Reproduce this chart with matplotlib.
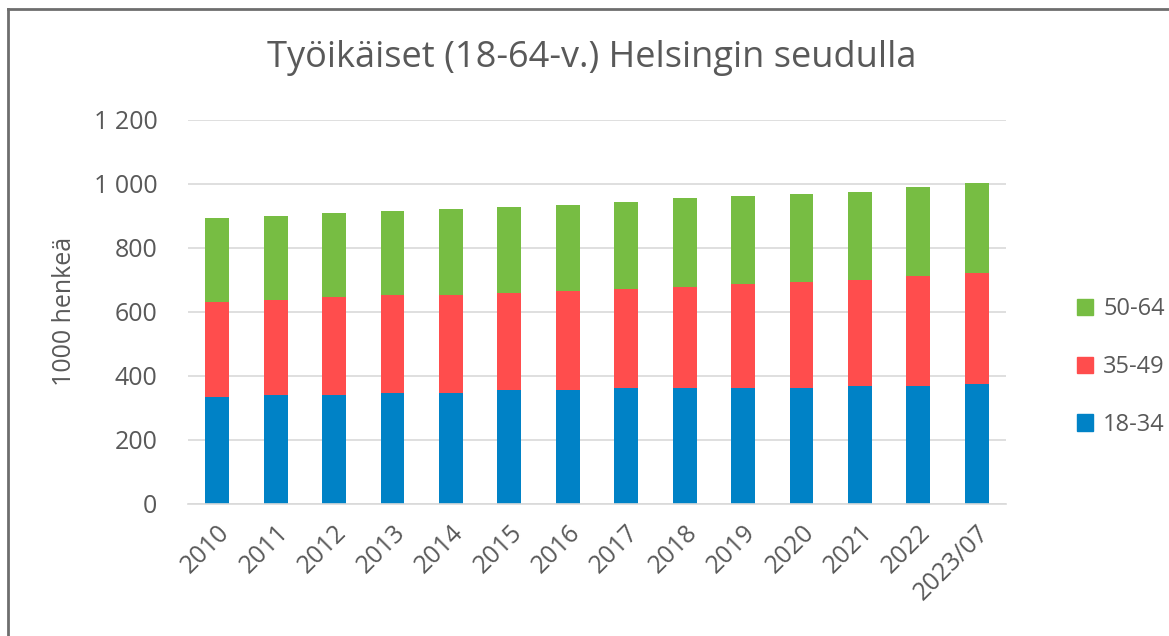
import matplotlib
matplotlib.use("Agg")
import matplotlib.pyplot as plt
from matplotlib.lines import Line2D
from matplotlib.patches import Patch
import numpy as np

plt.rcParams['font.family'] = ['Open Sans', 'DejaVu Sans']

years = ["2010", "2011", "2012", "2013", "2014", "2015", "2016",
         "2017", "2018", "2019", "2020", "2021", "2022", "2023/07"]
# stacked values, 1000 persons
age_18_34 = [332, 340, 341, 347, 347, 354, 354, 361, 361, 361, 361, 368, 368, 375]
age_35_49 = [298, 297, 304, 304, 304, 303, 311, 310, 317, 325, 331, 331, 344, 345]
age_50_64 = [262, 263, 262, 263, 269, 270, 269, 270, 276, 276, 276, 276, 277, 282]

W, H = 1169, 636
gray = '#595959'
c_blue = '#0082C6'
c_red = '#FF4D4D'
c_green = '#77BD43'

fig = plt.figure(figsize=(W / 100, H / 100), dpi=100)
ax = fig.add_axes([188 / W, 1 - 503.7 / H, (1006 - 188) / W, (503.7 - 119.5) / H])

x = np.arange(len(years))
b1 = np.array(age_18_34)
b2 = b1 + np.array(age_35_49)
ax.bar(x, age_18_34, width=0.41, color=c_blue, zorder=2)
ax.bar(x, age_35_49, width=0.41, bottom=b1, color=c_red, zorder=2)
ax.bar(x, age_50_64, width=0.41, bottom=b2, color=c_green, zorder=2)

ax.set_xlim(-0.5, len(years) - 0.5)
ax.set_ylim(0, 1200)
ticks = np.arange(0, 1201, 200)
ax.set_yticks(ticks)
ax.set_yticklabels([f"{t:,}".replace(",", " ") for t in ticks])
ax.set_xticks(x)
ax.set_xticklabels(years, rotation=45, ha='right', rotation_mode='anchor')
ax.grid(axis='y', color='#d9d9d9', linewidth=1.2, zorder=0)
for s in ['top', 'right', 'left']:
    ax.spines[s].set_visible(False)
ax.spines['bottom'].set_color('#d9d9d9')
ax.spines['bottom'].set_linewidth(1.2)
ax.tick_params(axis='both', length=0, labelsize=18, labelcolor=gray)
ax.tick_params(axis='y', pad=22)
ax.tick_params(axis='x', pad=12)
ax.set_ylabel("1000 henkeä", fontsize=18, color=gray, labelpad=12)

fig.text(592 / W, 1 - 58 / H, "Työikäiset (18-64-v.) Helsingin seudulla",
         ha='center', va='center', fontsize=26, color=gray)

handles = [Patch(color=c_green), Patch(color=c_red), Patch(color=c_blue)]
fig.legend(handles, ["50-64", "35-49", "18-34"], loc='upper left',
           bbox_to_anchor=(1056 / W, 1 - 276 / H), frameon=False,
           fontsize=17, labelcolor=gray, handlelength=0.68, handleheight=0.68,
           handletextpad=0.42, labelspacing=1.43)

# outer frame (top and left only)
fig.add_artist(Line2D([8 / W, 1], [1 - 9 / H, 1 - 9 / H], color='#6e6e6e', linewidth=2))
fig.add_artist(Line2D([8 / W, 8 / W], [0, 1 - 9 / H], color='#6e6e6e', linewidth=2))

fig.savefig("out.png", dpi=100)
